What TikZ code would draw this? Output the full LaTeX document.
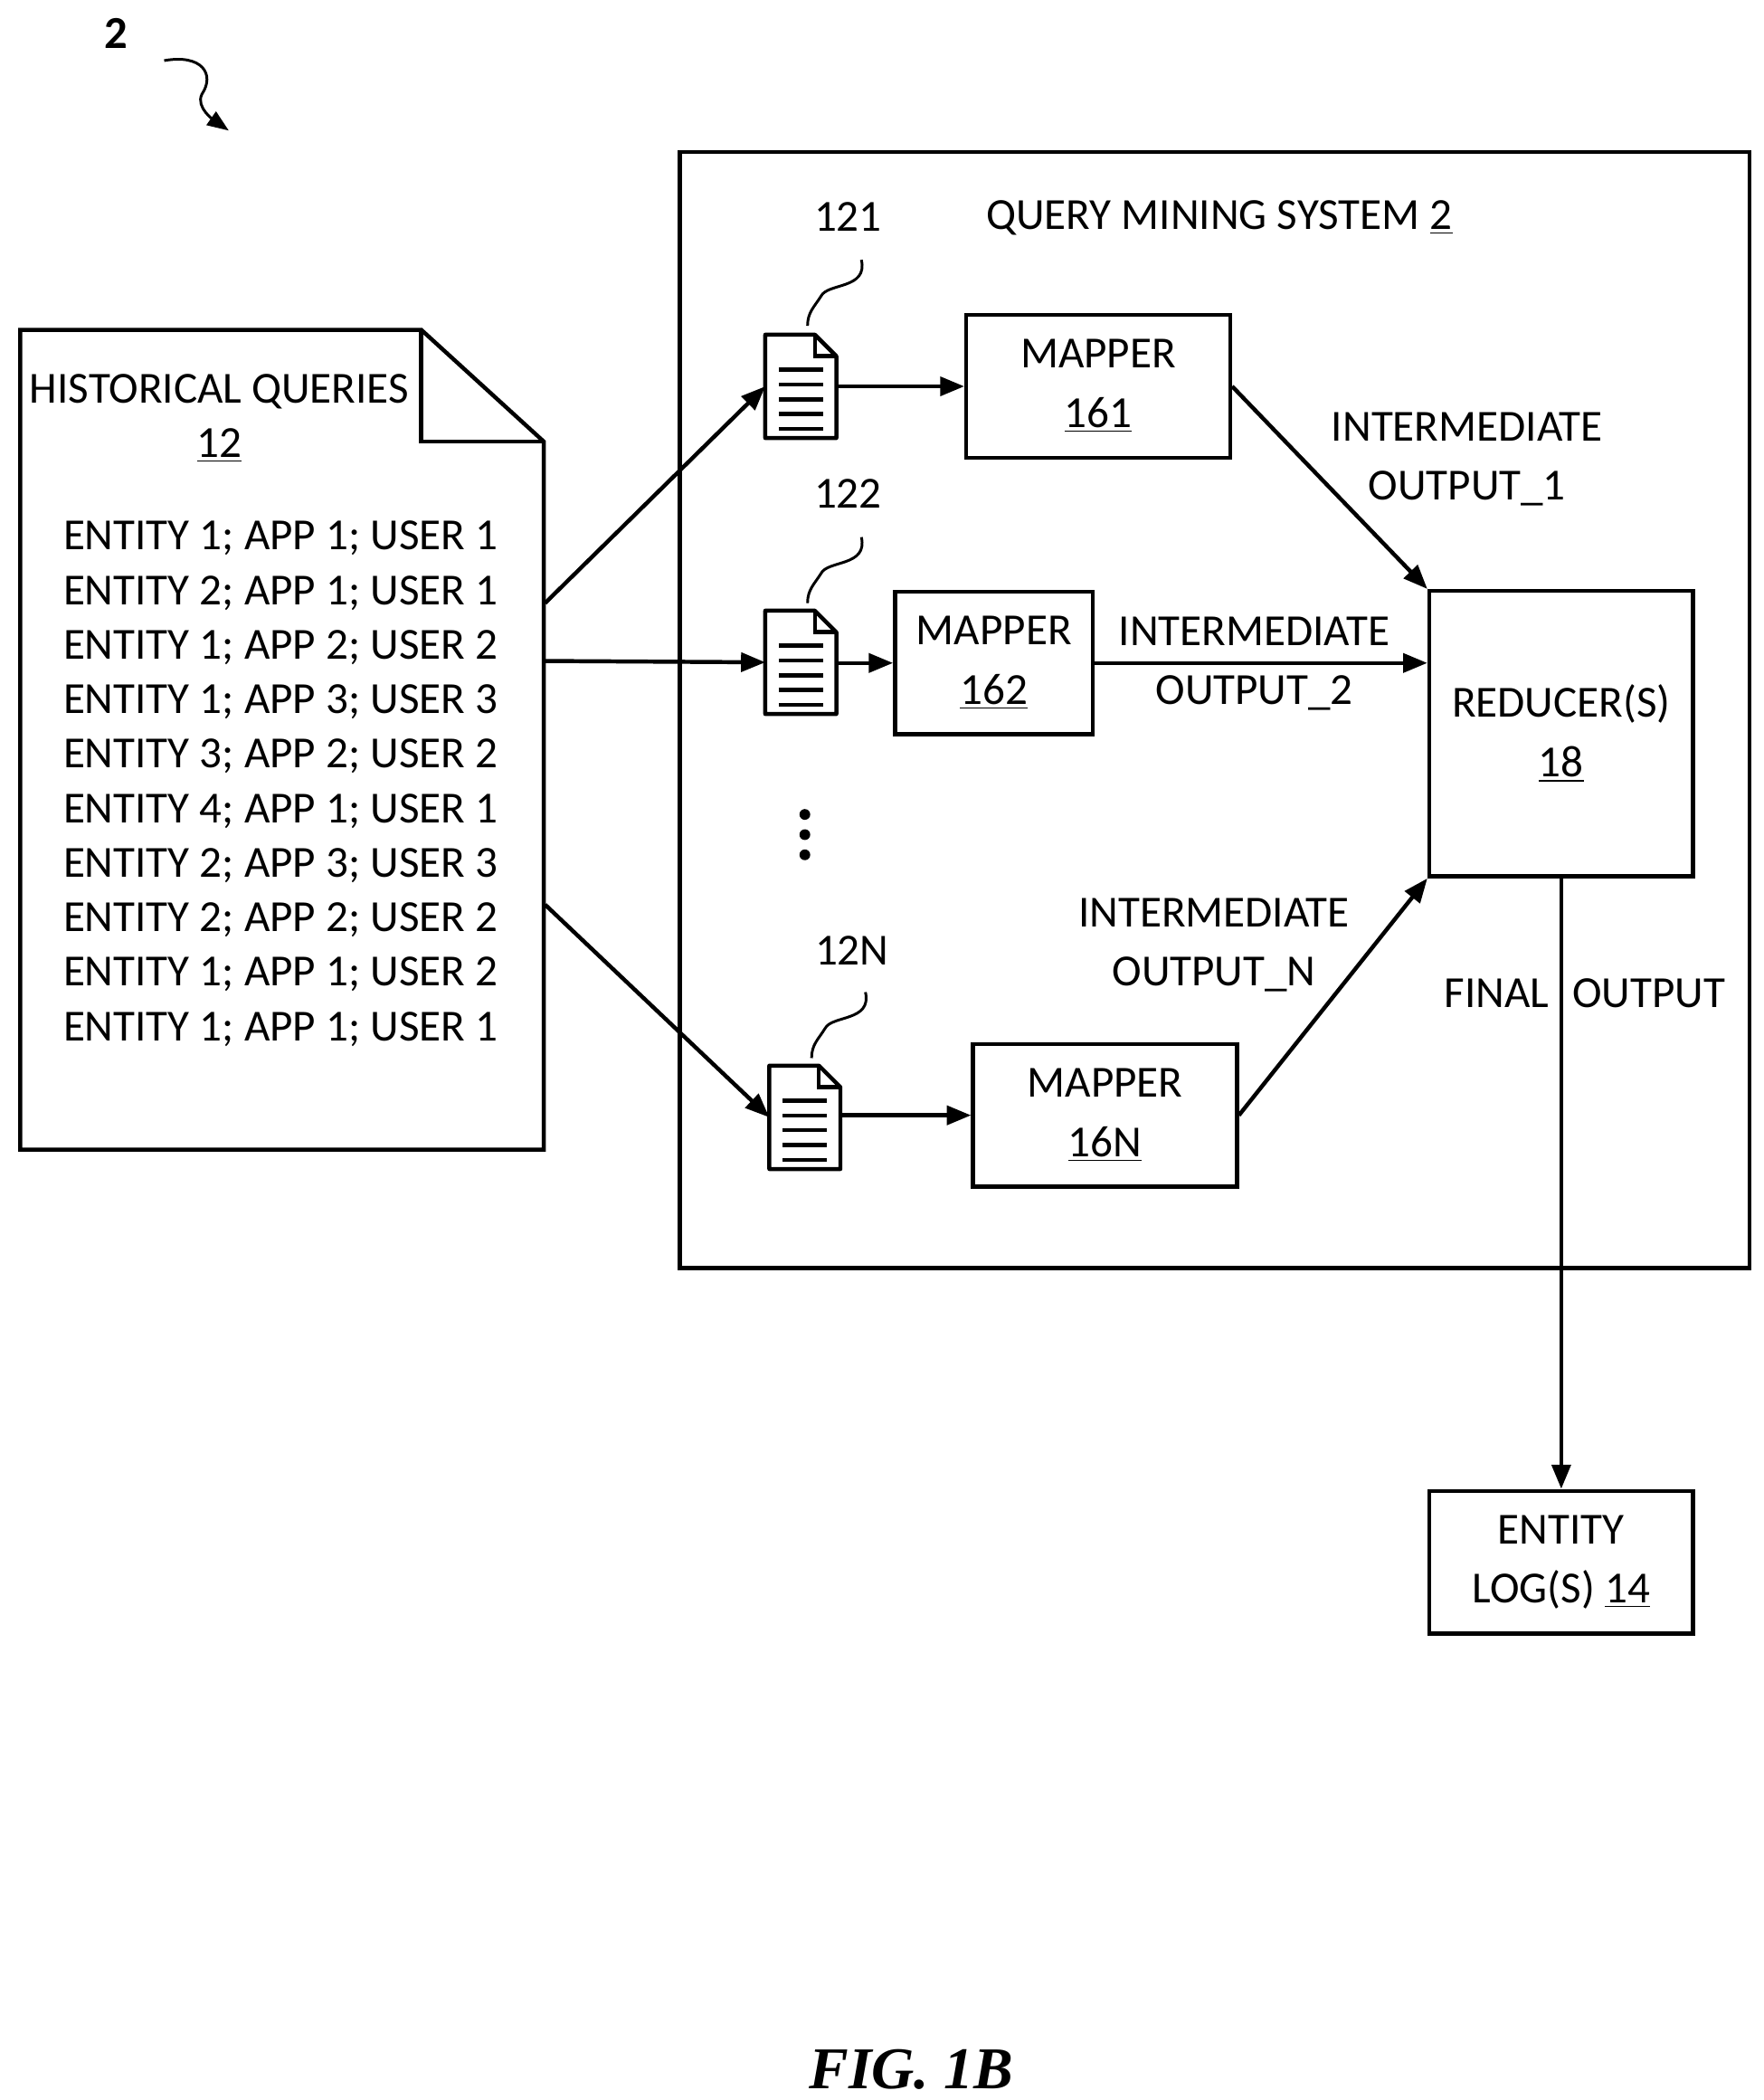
\documentclass[tikz,border=0pt]{standalone}
\usepackage{fontspec}
\setmainfont{Carlito}
\newfontfamily\figfont{Liberation Serif}
\usetikzlibrary{arrows.meta}
\begin{document}
\begin{tikzpicture}[x=0.5pt,y=-0.5pt,
  every node/.style={font=\fontsize{16.5}{19}\selectfont},
  ln/.style={line width=1.5pt},
  arr/.style={ln,-{Triangle[length=9pt,width=7pt]}},
  box/.style={ln,draw,minimum width=#1},
  lbl/.style={align=center,inner sep=0pt}]
\useasboundingbox (0,0) rectangle (1310,1560);
\newcommand{\docicon}[3]{%
  \node[minimum width=26pt,minimum height=38pt,inner sep=0pt] (#1) at (#2,#3) {};
  \draw[ln,line join=round] (#1.north west) -- ([xshift=-8pt]#1.north east) -- ([yshift=-8pt]#1.north east) -- (#1.south east) -- (#1.south west) -- cycle;
  \draw[ln] ([xshift=-8pt]#1.north east) -- ([xshift=-8pt,yshift=-8pt]#1.north east) -- ([yshift=-8pt]#1.north east);
  \foreach \i in {0,1,2,3,4} \draw[line width=1.5pt] ([xshift=5pt,yshift=-13pt-\i*5.5pt]#1.north west) -- ([xshift=-5pt,yshift=-13pt-\i*5.5pt]#1.north east);
}
% label 2
\node[font=\fontsize{17}{20}\selectfont\bfseries] (fig2) at (86,25) {2};
\draw[line width=1pt,-{Triangle[length=8pt,width=6pt]}] (122,45) .. controls (150,40) and (160,55) .. (150,70) .. controls (145,80) and (160,90) .. (170,97);
% system box
\draw[ln] (505,113) rectangle (1300,942);
\node (sys) at (906,162) {QUERY MINING SYSTEM \underline{2}};
% historical queries doc
\draw[ln,line join=miter] (15,245) -- (313,245) -- (404,328) -- (404,854) -- (15,854) -- cycle;
\draw[ln] (313,245) -- (313,328) -- (404,328);
\node (histt) at (163,291) {HISTORICAL QUERIES};
\node (histn) at (163,331) {\underline{12}};
\foreach \t [count=\k from 0] in {ENTITY 1; APP 1; USER 1,ENTITY 2; APP 1; USER 1,ENTITY 1; APP 2; USER 2,ENTITY 1; APP 3; USER 3,ENTITY 3; APP 2; USER 2,ENTITY 4; APP 1; USER 1,ENTITY 2; APP 3; USER 3,ENTITY 2; APP 2; USER 2,ENTITY 1; APP 1; USER 2,ENTITY 1; APP 1; USER 1}
  \node[anchor=west] (e\k) at (40,400+\k*40.5) {\t};
\coordinate (h1) at (405,448);
\coordinate (h2) at (405,491);
\coordinate (h3) at (405,672);
% doc icons
\docicon{d1}{595}{287}
\docicon{d2}{595}{492}
\docicon{d3}{598}{830}
\node (l1) at (630,161) {121};
\node (l2) at (630,367) {122};
\node (l3) at (633,706) {12N};
\draw[line width=1pt] (640,193) .. controls (645,215) and (615,210) .. (610,220) .. controls (605,228) and (600,232) .. (600,242);
\draw[line width=1pt] (640,399) .. controls (645,421) and (615,416) .. (610,426) .. controls (605,434) and (600,438) .. (600,448);
\draw[line width=1pt] (643,737) .. controls (648,759) and (618,754) .. (613,764) .. controls (608,772) and (603,776) .. (603,786);
\foreach \yy in {605,620,635} \fill (598,\yy) circle (4);
% mappers
\node[box, minimum width=98pt, minimum height=53pt, align=center] (m1) at (816,287) {MAPPER\\[3pt]\underline{161}};
\node[box, minimum width=73.5pt, minimum height=53pt, align=center] (m2) at (738.5,492.5) {MAPPER\\[3pt]\underline{162}};
\node[box, minimum width=98pt, minimum height=53pt, align=center] (m3) at (821,828.5) {MAPPER\\[3pt]\underline{16N}};
\node[box, minimum width=98pt, minimum height=106pt, align=center] (red) at (1160,545) {REDUCER(S)\\[3pt]\underline{18}};
\node[box, minimum width=98pt, minimum height=53pt, align=center] (log) at (1160,1160.5) {ENTITY\\[3pt]LOG(S) \underline{14}};
% arrows
\draw[arr] (h1) -- (d1.west);
\draw[arr] (h2) -- (d2.west);
\draw[arr] (h3) -- (d3.west);
\draw[arr] (d1.east |- m1) -- (m1.west);
\draw[arr] (d2.east |- m2) -- (m2.west);
\draw[arr] (d3.east |- m3) -- (m3.west);
\draw[arr] (m1.east) -- (red.north west);
\draw[arr] (m2.east) -- (red.west |- m2.east);
\draw[arr] (m3.east) -- (red.south west);
\draw[arr] (red.south) -- (log.north);
% labels
\node[lbl] (i1) at (1090,341) {INTERMEDIATE\\[3pt]OUTPUT\_1};
\node[lbl] (i2) at (932,493) {INTERMEDIATE\\[3pt]OUTPUT\_2};
\node[lbl] (i3) at (902,702) {INTERMEDIATE\\[3pt]OUTPUT\_N};
\node (fo1) at (1112,738) {FINAL};
\node (fo2) at (1225,738) {OUTPUT};
\node[font=\figfont\fontsize{22}{26}\selectfont\bfseries\itshape] (cap) at (677,1537) {FIG. 1B};
\end{tikzpicture}
\end{document}
